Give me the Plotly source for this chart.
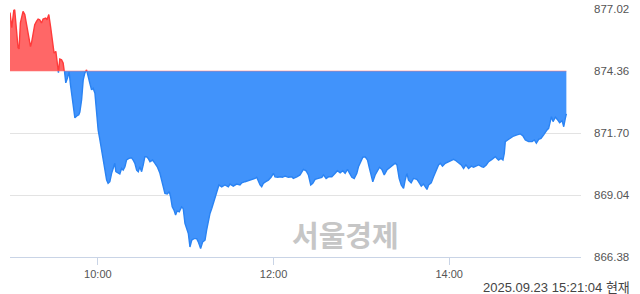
import pandas as pd
import plotly.graph_objects as go

# minutes after 09:00 and index values
minutes = [
    0.0, 1.2, 2.6, 3.2, 5.5, 6.2, 7.1, 8.9, 10.1, 11.2,
    12.3, 14.0, 14.7, 16.9, 18.1, 19.2, 20.3, 21.5, 22.6, 24.4,
    25.3, 26.5, 27.7, 29.0, 30.1, 31.3, 32.2, 33.1, 34.0, 35.2,
    36.3, 37.0, 38.1, 39.3, 40.4, 41.3, 42.7, 43.6, 44.3, 45.6,
    47.0, 47.7, 48.9, 50.0, 51.1, 52.3, 53.4, 54.5, 55.7, 56.8,
    58.0, 59.1, 60.2, 61.4, 62.5, 63.6, 64.8, 66.0, 67.0, 68.2,
    69.4, 70.5, 71.6, 72.3, 73.9, 75.0, 76.2, 77.3, 78.5, 79.6,
    81.2, 83.0, 84.1, 85.3, 86.5, 87.6, 88.7, 89.9, 91.0, 92.1,
    93.3, 94.4, 95.6, 97.4, 99.0, 100.6, 102.4, 103.6, 104.7, 105.8,
    107.4, 108.8, 109.7, 110.8, 112.0, 113.1, 114.2, 115.6, 117.2, 118.3,
    119.5, 120.7, 121.8, 122.9, 124.1, 125.6, 127.5, 128.6, 130.2, 131.6,
    133.2, 134.3, 135.4, 136.6, 137.8, 138.8, 140.0, 141.2, 142.7, 144.6,
    146.8, 149.1, 150.3, 152.5, 154.8, 157.1, 158.3, 160.5, 162.8, 165.1,
    167.4, 168.5, 169.6, 170.8, 171.9, 173.0, 174.7, 176.5, 178.3, 179.9,
    181.0, 182.9, 184.5, 186.0, 187.9, 190.1, 192.5, 193.5, 195.9, 198.1,
    200.4, 202.2, 203.8, 205.4, 206.8, 208.4, 210.6, 213.0, 214.1, 215.9,
    217.5, 219.8, 222.1, 223.6, 225.5, 227.3, 228.9, 230.5, 231.8, 233.5,
    235.1, 236.9, 238.0, 239.6, 241.0, 242.6, 244.2, 245.5, 246.7, 247.8,
    249.4, 250.6, 252.4, 254.0, 255.6, 257.4, 260.8, 263.1, 264.3, 265.8,
    267.2, 268.8, 269.9, 271.1, 272.2, 274.0, 275.6, 277.9, 279.0, 280.9,
    282.4, 283.6, 284.8, 285.9, 287.7, 289.3, 290.9, 292.7, 293.9, 295.4,
    297.3, 299.5, 301.4, 303.0, 304.6, 306.4, 308.2, 309.8, 311.4, 313.2,
    315.1, 316.6, 318.3, 320.1, 322.4, 323.5, 325.3, 326.9, 329.2, 331.5,
    332.6, 333.7, 335.4, 336.7, 337.6, 338.3, 339.9, 341.7, 344.0, 346.3,
    348.6, 350.4, 352.0, 354.2, 356.6, 358.1, 359.5, 361.1, 362.7, 364.5,
    365.7, 366.8, 367.9, 369.1, 369.8, 370.9, 372.5, 374.1, 375.4, 377.1,
    378.2, 379.3, 380.0,
]
values = [
    876.87, 876.22, 876.96, 876.99, 875.36, 875.31, 876.43, 876.92, 876.78, 876.35,
    876.00, 875.41, 875.57, 876.35, 876.49, 876.59, 876.56, 876.42, 876.59, 876.63,
    876.56, 876.78, 876.27, 875.70, 875.13, 875.20, 874.55, 874.29, 874.87, 874.84,
    874.70, 874.48, 873.85, 874.07, 874.32, 873.77, 873.12, 872.60, 872.35, 872.43,
    872.48, 872.60, 873.12, 873.98, 874.27, 874.41, 874.05, 873.84, 873.55, 873.62,
    873.41, 872.69, 871.83, 871.40, 870.97, 870.68, 870.25, 869.68, 869.54, 869.61,
    869.97, 870.25, 870.40, 870.04, 869.97, 869.94, 870.18, 870.11, 870.25, 870.54,
    870.61, 870.64, 870.54, 870.40, 870.11, 870.04, 870.25, 870.04, 870.33, 870.68,
    870.68, 870.61, 870.47, 870.54, 870.40, 870.25, 869.97, 869.68, 869.39, 869.11,
    869.08, 869.18, 868.96, 868.53, 868.39, 868.18, 868.36, 868.32, 868.53, 868.46,
    867.82, 867.53, 867.39, 866.81, 867.10, 867.17, 867.17, 867.03, 866.74, 867.03,
    867.10, 867.53, 867.96, 868.25, 868.46, 868.68, 868.96, 869.25, 869.47, 869.39,
    869.47, 869.39, 869.51, 869.42, 869.51, 869.47, 869.56, 869.61, 869.65, 869.71,
    869.75, 869.80, 869.61, 869.47, 869.39, 869.54, 869.61, 869.68, 869.80, 869.97,
    869.82, 869.80, 869.82, 869.80, 869.85, 869.80, 869.82, 869.75, 869.82, 869.90,
    870.14, 870.08, 869.90, 869.47, 869.54, 869.71, 869.75, 869.80, 869.90, 869.75,
    869.82, 869.82, 869.97, 870.08, 869.99, 870.08, 869.97, 870.14, 869.99, 869.80,
    869.75, 869.97, 870.25, 870.47, 870.66, 870.68, 870.54, 870.18, 869.82, 869.61,
    869.90, 870.04, 870.23, 870.14, 869.90, 870.11, 870.28, 870.40, 870.33, 869.75,
    869.47, 869.32, 869.68, 869.97, 869.68, 869.56, 869.75, 869.71, 869.61, 869.42,
    869.51, 869.37, 869.28, 869.47, 869.56, 869.82, 870.04, 870.33, 870.40, 870.28,
    870.40, 870.47, 870.54, 870.57, 870.51, 870.42, 870.33, 870.18, 870.33, 870.18,
    870.28, 870.23, 870.28, 870.33, 870.25, 870.23, 870.33, 870.47, 870.57, 870.68,
    870.61, 870.54, 870.61, 870.54, 870.83, 871.33, 871.40, 871.47, 871.57, 871.62,
    871.66, 871.57, 871.40, 871.33, 871.33, 871.40, 871.26, 871.43, 871.47, 871.62,
    871.76, 871.83, 871.90, 872.19, 872.40, 872.19, 872.38, 872.26, 872.14, 872.23,
    871.97, 872.33, 872.52,
]

prev_close = 874.36
y_ticks = [866.38, 869.04, 871.70, 874.36, 877.02]
x_ticks = ["10:00", "12:00", "14:00"]
day = "2025-09-23"
stamp_text = "2025.09.23 15:21:04 현재"
watermark = "서울경제"

times = pd.Timestamp(day + " 09:00") + pd.to_timedelta(minutes, unit="m")
y_lo, y_hi = y_ticks[0], y_ticks[-1]
split = (prev_close - y_lo) / (y_hi - y_lo)

RED_FILL, RED_LINE = "#ff6767", "#ff3a3a"
BLUE_FILL, BLUE_LINE = "#4193fb", "#2a83f3"
GRID = "#e3e3e3"
AXIS = "#c9d4e6"
LABEL = "#555555"
FONT = "Liberation Sans, Noto Sans CJK KR, sans-serif"

fig = go.Figure()
# lower (below previous close) part
fig.add_trace(go.Scatter(x=[times[0], times[-1]], y=[prev_close, prev_close],
                         mode="lines", line=dict(width=0), hoverinfo="skip",
                         xaxis="x", yaxis="y", showlegend=False))
fig.add_trace(go.Scatter(x=times, y=values, mode="lines", fill="tonexty",
                         fillcolor=BLUE_FILL, line=dict(color=BLUE_LINE, width=1.4),
                         xaxis="x", yaxis="y", showlegend=False))
# upper (above previous close) part
fig.add_trace(go.Scatter(x=times, y=values, mode="lines", fill="tozeroy",
                         fillcolor=RED_FILL, line=dict(color=RED_LINE, width=1.4),
                         xaxis="x", yaxis="y2", showlegend=False))

fig.add_shape(type="line", xref="x", yref="paper",
              x0=times[0], x1=times[-1], y0=split, y1=split,
              line=dict(color="rgba(255,120,120,0.55)", width=1), layer="above")

tick_font = dict(family=FONT, size=11.5, color=LABEL)
fig.update_layout(
    width=640, height=294,
    margin=dict(l=10, r=59, t=9, b=37, autoexpand=False),
    paper_bgcolor="white", plot_bgcolor="white",
    xaxis=dict(
        type="date",
        range=[day + " 09:00", day + " 15:30"],
        tickvals=[day + " " + t for t in x_ticks],
        ticktext=x_ticks,
        showgrid=False, zeroline=False,
        showline=True, linecolor=AXIS, linewidth=1,
        ticks="outside", ticklen=7, tickcolor=AXIS, tickwidth=1,
        tickfont=dict(family=FONT, size=11, color=LABEL),
        anchor="y", automargin=False,
    ),
    yaxis=dict(
        domain=[0, split], range=[y_lo, prev_close],
        side="right", tickvals=y_ticks[:4], ticktext=[f"{v:.2f}" for v in y_ticks[:4]],
        showgrid=True, gridcolor=GRID, gridwidth=1, zeroline=False,
        ticks="", ticklabelstandoff=12, tickfont=tick_font,
        anchor="x", automargin=False,
    ),
    yaxis2=dict(
        domain=[split, 1], range=[prev_close, y_hi],
        side="right", tickvals=[y_hi], ticktext=[f"{y_hi:.2f}"],
        showgrid=True, gridcolor=GRID, gridwidth=1, zeroline=False,
        ticks="", ticklabelstandoff=12, tickfont=tick_font,
        anchor="x", automargin=False,
    ),
    annotations=[
        dict(text=watermark, xref="paper", yref="paper", x=0.587, y=0.093,
             xanchor="center", yanchor="middle", showarrow=False,
             font=dict(family="Noto Sans CJK KR", size=29, color="#c6c6c6", weight="bold")),
        dict(text=stamp_text, xref="paper", yref="paper", x=1.089, y=-0.121,
             xanchor="right", yanchor="middle", showarrow=False,
             font=dict(family=FONT, size=13, color="#444444")),
    ],
)

fig.write_html("out.html")
